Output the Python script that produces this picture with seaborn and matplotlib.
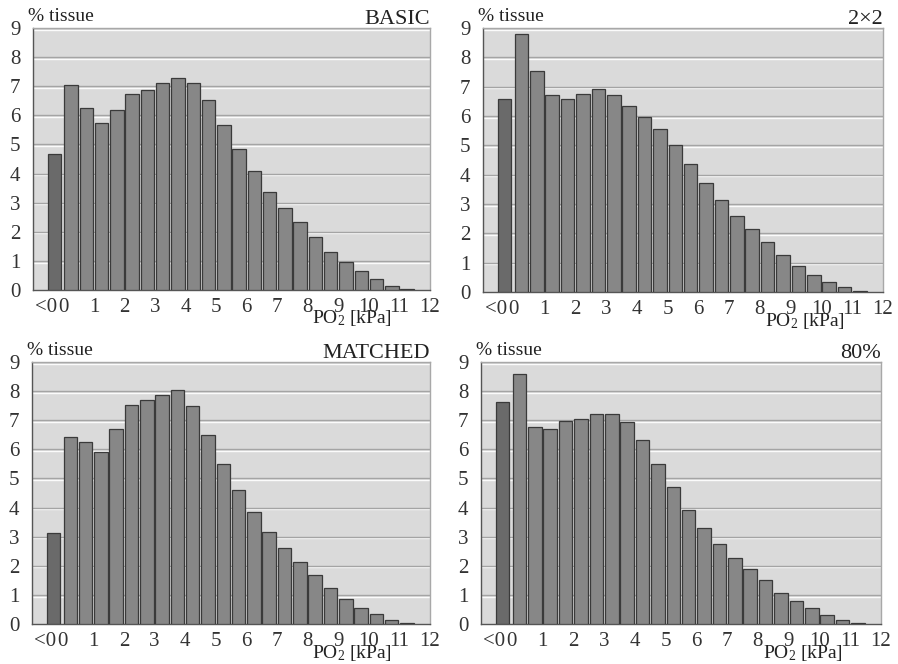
import numpy as np
import pandas as pd
import matplotlib
matplotlib.use("Agg")
import matplotlib.pyplot as plt
import matplotlib.patheffects as pe
import seaborn as sns

# ---------------- data ----------------
bin_centers = [0.25, 0.75, 1.25, 1.75, 2.25, 2.75, 3.25, 3.75, 4.25, 4.75, 5.25, 5.75,
               6.25, 6.75, 7.25, 7.75, 8.25, 8.75, 9.25, 9.75, 10.25, 10.75, 11.25]

basic_below0 = 4.67
basic = [7.03, 6.24, 5.73, 6.19, 6.72, 6.88, 7.12, 7.29, 7.12, 6.54, 5.68, 4.85,
         4.09, 3.38, 2.80, 2.35, 1.81, 1.32, 0.97, 0.64, 0.36, 0.14, 0.03]

twobytwo_below0 = 6.58
twobytwo = [8.78, 7.54, 6.73, 6.58, 6.74, 6.92, 6.70, 6.34, 5.95, 5.56, 5.00, 4.38,
            3.71, 3.14, 2.60, 2.16, 1.71, 1.25, 0.88, 0.58, 0.34, 0.16, 0.05]

matched_below0 = 3.14
matched = [6.41, 6.26, 5.91, 6.69, 7.51, 7.70, 7.88, 8.05, 7.48, 6.49, 5.50, 4.59,
           3.85, 3.17, 2.60, 2.14, 1.67, 1.24, 0.85, 0.56, 0.33, 0.14, 0.05]

p80_below0 = 7.62
p80 = [8.60, 6.78, 6.71, 6.97, 7.05, 7.20, 7.23, 6.94, 6.32, 5.50, 4.72, 3.92,
       3.30, 2.74, 2.26, 1.88, 1.50, 1.08, 0.80, 0.56, 0.31, 0.14, 0.05]

panel_titles = ["BASIC", "2×2", "MATCHED", "80%"]
y_ticks = [0, 1, 2, 3, 4, 5, 6, 7, 8, 9]
x_ticks = [0, 1, 2, 3, 4, 5, 6, 7, 8, 9, 10, 11, 12]
below_label = "<0"
y_label = "% tissue"
x_label = "PO$_\\mathrm{2}$ [kPa]"

panels = [
    (panel_titles[0], basic_below0, basic),
    (panel_titles[1], twobytwo_below0, twobytwo),
    (panel_titles[2], matched_below0, matched),
    (panel_titles[3], p80_below0, p80),
]

# ---------------- style ----------------
sns.set_theme(style="white")
plt.rcParams["font.family"] = ["Liberation Serif", "DejaVu Serif"]
plt.rcParams["mathtext.fontset"] = "custom"
plt.rcParams["mathtext.rm"] = "Liberation Serif"
plt.rcParams["mathtext.it"] = "Liberation Serif:italic"
plt.rcParams["mathtext.bf"] = "Liberation Serif:bold"

BELOW_POS = -0.3
fig = plt.figure(figsize=(8.98, 6.64), dpi=100)

axes_rects = [
    [0.0367, 0.5633, 0.4421, 0.3945],
    [0.5379, 0.5602, 0.4454, 0.3976],
    [0.0356, 0.0602, 0.4432, 0.3946],
    [0.5356, 0.0602, 0.4455, 0.3946],
]

for rect, (title, below0, vals) in zip(axes_rects, panels):
    ax = fig.add_axes(rect)
    ax.set_facecolor("#dadada")
    df = pd.DataFrame({
        "po2": [BELOW_POS] + bin_centers,
        "pct": [below0] + vals,
        "grp": ["below"] + ["above"] * len(vals),
    })
    sns.barplot(data=df, x="po2", y="pct", hue="grp", native_scale=True,
                palette={"below": "#6a6a6a", "above": "#878787"},
                dodge=False, width=0.88, legend=False, ax=ax,
                edgecolor="#3a3a3a", linewidth=0.9, zorder=3)
    ax.set_xlim(-1, 12)
    ax.set_ylim(0, 9)
    ax.set_xlabel("")
    ax.set_ylabel("")
    ax.set_yticks(y_ticks)
    ax.set_yticklabels([str(v) for v in y_ticks], fontsize=15)
    ax.set_xticks([-1] + x_ticks)
    ax.set_xticklabels([""] + [str(v) for v in x_ticks], fontsize=15)
    ax.set_xticks([-0.58], minor=True)
    ax.set_xticklabels([below_label], minor=True, fontsize=15)
    ax.tick_params(axis="x", which="major", length=5, width=0.8, color="#555555",
                   direction="out", pad=1, labelcolor="#333333")
    ax.tick_params(axis="x", which="minor", length=0, pad=6, labelcolor="#333333")
    ax.tick_params(axis="y", which="major", length=4, width=0.8, color="#555555",
                   direction="out", pad=5, labelcolor="#333333")
    for v in y_ticks[1:]:
        ax.axhline(v, color="#a4a4a4", lw=1.0, zorder=1,
                   path_effects=[pe.SimpleLineShadow(offset=(0, -1.2), shadow_color="white",
                                                     alpha=0.9),
                                 pe.Normal()])
    for s in ["left", "bottom"]:
        ax.spines[s].set_color("#555555")
        ax.spines[s].set_linewidth(1.0)
    for s in ["top", "right"]:
        ax.spines[s].set_color("#a8a8a8")
        ax.spines[s].set_linewidth(1.0)
    ax.set_title(title, loc="right", fontsize=16, pad=3, color="#222222")
    ax.text(-0.012, 1.012, y_label, transform=ax.transAxes, ha="left", va="bottom",
            fontsize=14, color="#222222")
    ax.text(9.45, -0.128, x_label, transform=ax.get_xaxis_transform(), ha="center",
            va="baseline", fontsize=14, color="#222222")

fig.savefig("out.png", dpi=100)
